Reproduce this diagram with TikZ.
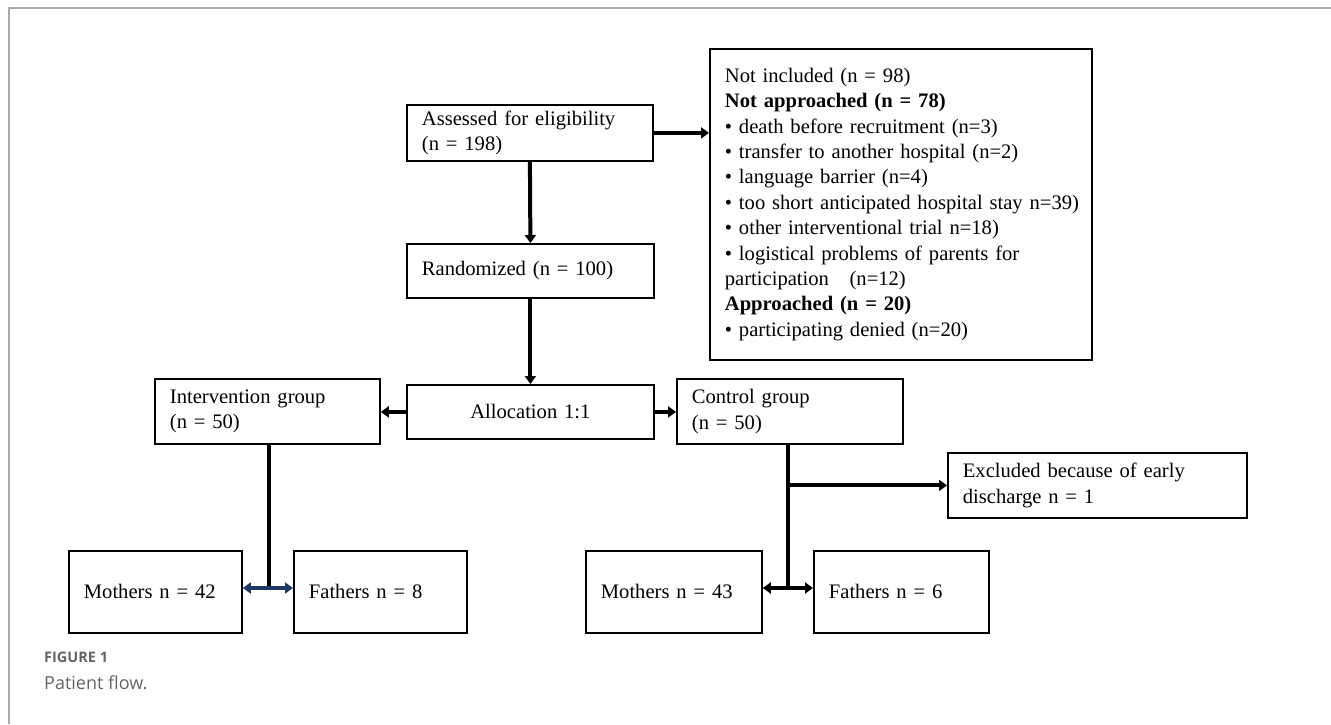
\documentclass[tikz,border=0pt]{standalone}
\usepackage{fontspec}
\setmainfont{Liberation Serif}
\newfontfamily\capfont{Open Sans}
\usetikzlibrary{arrows.meta}
\definecolor{framegray}{RGB}{170,170,170}
\definecolor{capgray}{RGB}{100,100,100}
\definecolor{navyarrow}{RGB}{31,56,100}
\newcommand\boxfont{\fontsize{20.6}{25.4}\selectfont}
\tikzset{
  box/.style={draw, line width=1.8pt, inner xsep=15pt, inner ysep=0pt, align=left,
              anchor=north west, font=\boxfont},
  flow/.style={line width=4pt, -{Triangle[length=8pt,width=11pt]}},
  plain/.style={line width=4.5pt},
  dbl/.style={line width=4pt, {Triangle[length=8pt,width=11pt]}-{Triangle[length=8pt,width=11pt]}},
}
\begin{document}
\begin{tikzpicture}[x=1pt,y=-1pt]
\useasboundingbox (0,0) rectangle (1331,724);
% frame
\draw[framegray, line width=1.5pt] (9,724) -- (9,8) -- (1331,8);

% nodes
\node[box, text width=216pt, minimum width=246pt, minimum height=56pt] (assess) at (406,104)
  {Assessed for eligibility\\(n = 198)};
\node[box, text width=352pt, minimum width=382pt, minimum height=311pt] (notinc) at (709,48)
  {Not included (n = 98)\\
   \textbf{Not approached (n = 78)}\\
   • death before recruitment (n=3)\\
   • transfer to another hospital (n=2)\\
   • language barrier (n=4)\\
   \mbox{• too short anticipated hospital stay n=39)}\\
   • other interventional trial n=18)\\
   • logistical problems of parents for\\
   participation\ \ \ (n=12)\\
   \textbf{Approached (n = 20)}\\
   • participating denied (n=20)};
\node[box, text width=217pt, minimum width=247pt, minimum height=54pt] (rand) at (406,243)
  {Randomized (n = 100)};
\node[box, align=center, text width=217pt, minimum width=247pt, minimum height=54pt] (alloc) at (406,384)
  {Allocation 1:1};
\node[box, text width=195pt, minimum width=225pt, minimum height=65pt] (interv) at (154,378)
  {Intervention group\\(n = 50)};
\node[box, text width=196pt, minimum width=226pt, minimum height=65pt] (ctrl) at (676,378)
  {Control group\\(n = 50)};
\node[box, text width=269pt, minimum width=299pt, minimum height=65pt] (excl) at (947,452)
  {Excluded because of early\\discharge n = 1};
\node[box, text width=143pt, minimum width=173pt, minimum height=82pt] (m1) at (68,550)
  {Mothers n = 42};
\node[box, text width=143pt, minimum width=173pt, minimum height=82pt] (f1) at (293,550)
  {Fathers n = 8};
\node[box, text width=146pt, minimum width=176pt, minimum height=82pt] (m2) at (585,550)
  {Mothers n = 43};
\node[box, text width=145pt, minimum width=175pt, minimum height=82pt] (f2) at (813,550)
  {Fathers n = 6};

% caption
\node[anchor=west, inner sep=0pt, text=capgray, font=\capfont\bfseries\fontsize{14.5}{17}\selectfont] (fig) at (44,657) {FIGURE 1};
\node[anchor=west, inner sep=0pt, text=capgray, font=\capfont\fontsize{18}{22}\selectfont] (cap) at (44,683) {Patient flow.};

% connectors
\coordinate (ib) at (269,588);
\coordinate (cb) at (788,588);
\draw[flow] (assess.east) -- (assess.east -| notinc.west);
\draw[flow] (assess.south) -- (rand.north);
\draw[flow] (rand.south) -- (alloc.north);
\draw[flow] (alloc.west) -- (alloc.west -| interv.east);
\draw[flow] (alloc.east) -- (alloc.east -| ctrl.west);
\draw[plain] (interv.south -| ib) -- (ib);
\draw[dbl, navyarrow] (m1.east |- ib) -- (f1.west |- ib);
\draw[plain] (ctrl.south -| cb) -- (cb);
\draw[flow] (ctrl.south |- excl.west) -- (excl.west);
\draw[dbl] (m2.east |- cb) -- (f2.west |- cb);
\end{tikzpicture}
\end{document}
